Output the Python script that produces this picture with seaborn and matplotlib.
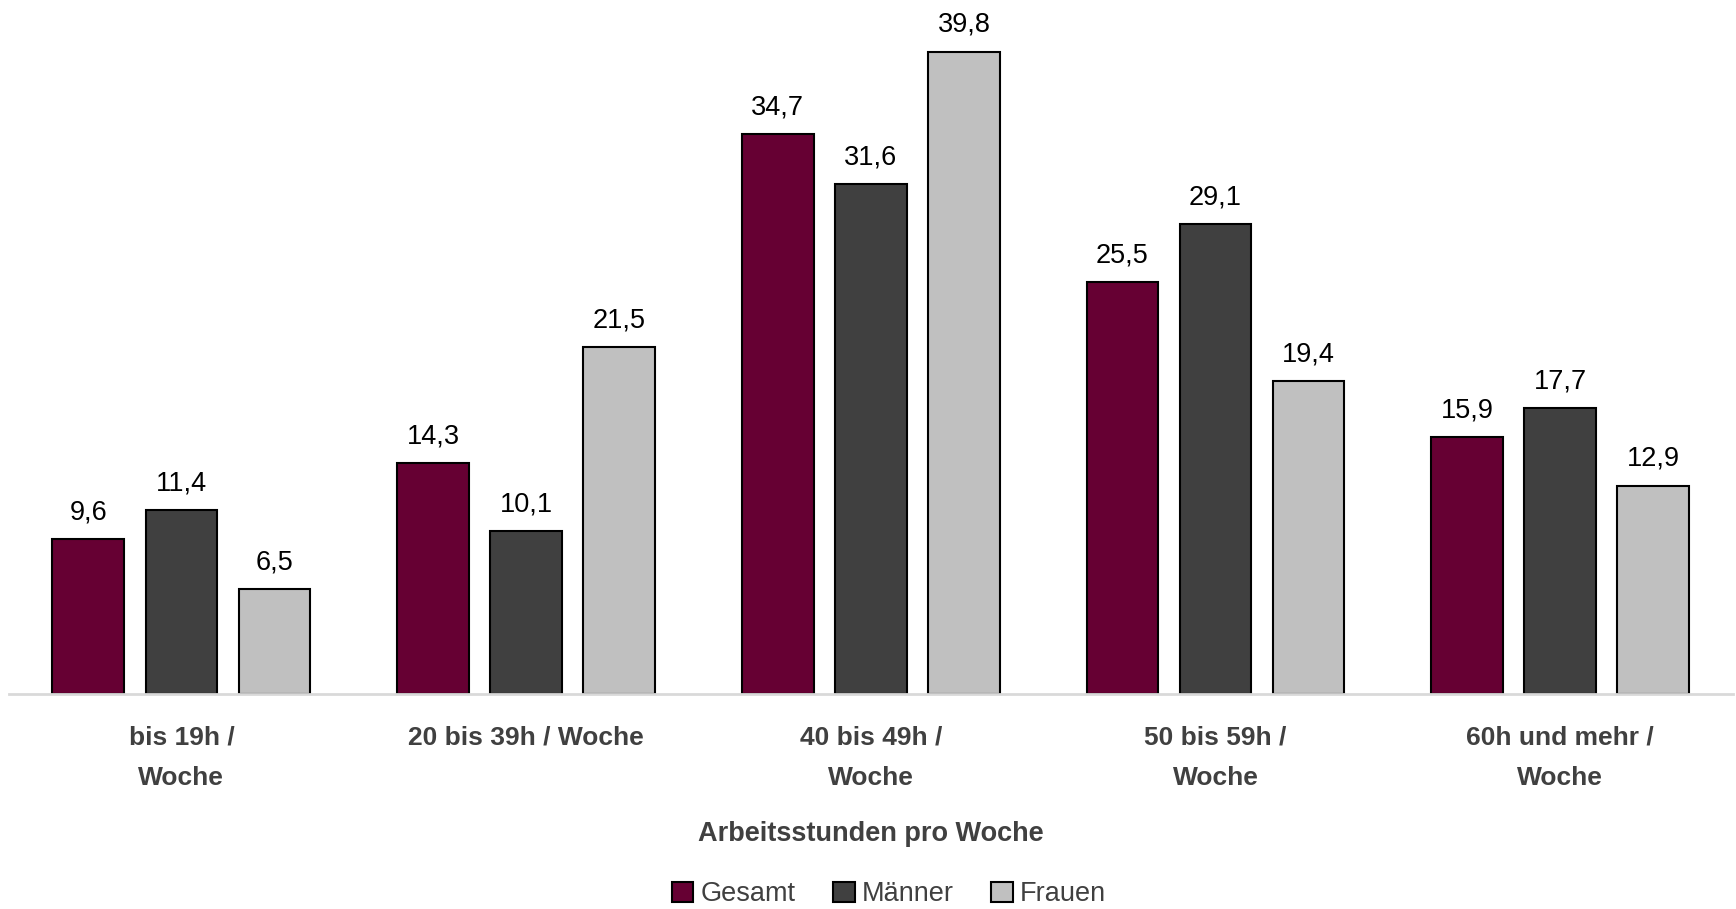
import matplotlib
matplotlib.use("Agg")
import matplotlib.pyplot as plt
import seaborn as sns
import pandas as pd

categories = ["bis 19h /\nWoche", "20 bis 39h / Woche", "40 bis 49h /\nWoche",
              "50 bis 59h /\nWoche", "60h und mehr /\nWoche"]
gesamt = [9.6, 14.3, 34.7, 25.5, 15.9]
maenner = [11.4, 10.1, 31.6, 29.1, 17.7]
frauen = [6.5, 21.5, 39.8, 19.4, 12.9]
series = ["Gesamt", "Männer", "Frauen"]
colors = ["#660033", "#404040", "#C0C0C0"]

df = pd.DataFrame({
    "cat": categories * 3,
    "val": gesamt + maenner + frauen,
    "grp": [s for s in series for _ in categories],
})

sns.set_style("white")
plt.rcParams["font.family"] = ["Liberation Sans", "DejaVu Sans"]

fig = plt.figure(figsize=(17.36, 9.09), dpi=100)
ax = fig.add_axes([0.0052, 0.2365, 0.9928, 0.7635])

sns.barplot(data=df, x="cat", y="val", hue="grp", order=categories,
            hue_order=series, palette=colors, saturation=1, width=0.81, gap=0.23,
            edgecolor="black", linewidth=1.5, ax=ax, legend=True)

for cont in ax.containers:
    ax.bar_label(cont, labels=[f"{v:.1f}".replace(".", ",") for v in cont.datavalues],
                 padding=10, fontsize=19.5, color="black")

ax.set_xlim(-0.5, 4.5)
ax.set_ylim(0, 43)
ax.set_yticks([])
ax.set_ylabel("")
for s in ["top", "left", "right"]:
    ax.spines[s].set_visible(False)
ax.spines["bottom"].set_color("#d9d9d9")
ax.spines["bottom"].set_linewidth(2)
ax.tick_params(axis="x", length=0, pad=23)
for t in ax.get_xticklabels():
    t.set_fontsize(19)
    t.set_fontweight("bold")
    t.set_color("#404040")
    t.set_linespacing(1.85)
ax.set_xlabel("Arbeitsstunden pro Woche", fontsize=19.5, fontweight="bold",
              color="#404040", labelpad=22)

handles, labels = ax.get_legend_handles_labels()
ax.get_legend().remove()
leg = fig.legend(handles, labels, loc="center", bbox_to_anchor=(0.512, 0.016), ncol=3,
                 frameon=False, fontsize=19.5, handlelength=0.8, handleheight=0.8,
                 handletextpad=0.25, columnspacing=1.4)
for t in leg.get_texts():
    t.set_color("#404040")

fig.savefig("out.png", dpi=100)
